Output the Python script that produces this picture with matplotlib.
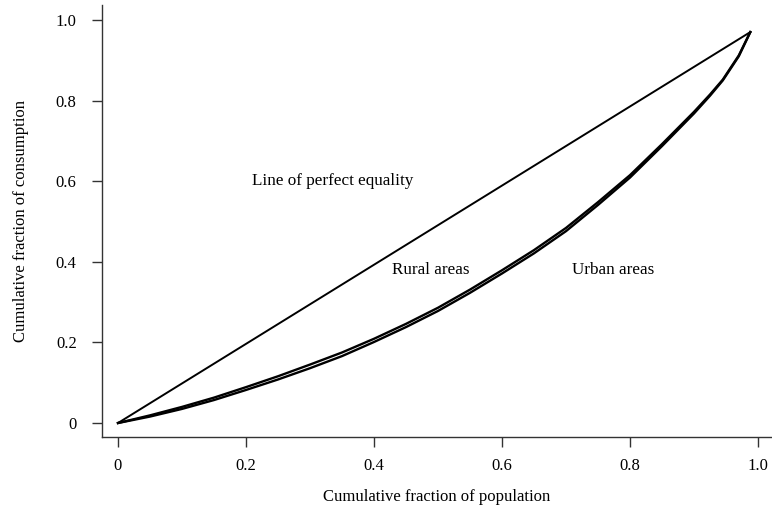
import matplotlib
matplotlib.use("Agg")
import matplotlib.pyplot as plt

plt.rcParams['font.family'] = ['Liberation Serif', 'DejaVu Serif']

# Lorenz curves: cumulative share of population vs. cumulative share of consumption
pop_share = [0, 0.05, 0.1, 0.15, 0.2, 0.25, 0.3, 0.35, 0.4, 0.45, 0.5,
             0.55, 0.6, 0.65, 0.7, 0.75, 0.8, 0.85, 0.9, 0.925, 0.945, 0.97, 0.988]
rural_share = [0, 0.019, 0.040, 0.063, 0.089, 0.116, 0.145, 0.175, 0.209, 0.246, 0.286,
               0.331, 0.379, 0.429, 0.484, 0.548, 0.615, 0.692, 0.772, 0.815, 0.852, 0.912, 0.970]
urban_share = [0, 0.016, 0.035, 0.057, 0.082, 0.108, 0.136, 0.166, 0.201, 0.238, 0.278,
               0.323, 0.371, 0.421, 0.476, 0.541, 0.609, 0.687, 0.768, 0.812, 0.850, 0.910, 0.970]

# equality line endpoints
eq_x = [0, 0.988]
eq_y = [0, 0.970]

ticks = [0, 0.2, 0.4, 0.6, 0.8, 1.0]
tick_labels = ['0', '0.2', '0.4', '0.6', '0.8', '1.0']

fig = plt.figure(figsize=(7.72, 5.14), dpi=100)
ax = fig.add_axes([0.1317, 0.1498, 0.8683, 0.8405])

ax.plot(eq_x, eq_y, color='black', lw=1.4)
ax.plot(pop_share, rural_share, color='black', lw=1.7)
ax.plot(pop_share, urban_share, color='black', lw=1.7)

ax.text(0.21, 0.60, 'Line of perfect equality', fontsize=12.3, va='center', ha='left')
ax.text(0.428, 0.38, 'Rural areas', fontsize=12.3, va='center', ha='left')
ax.text(0.709, 0.38, 'Urban areas', fontsize=12.3, va='center', ha='left')

ax.set_xlim(-0.0255, 1.0219)
ax.set_ylim(-0.0347, 1.0372)
ax.set_xticks(ticks)
ax.set_xticklabels(tick_labels)
ax.set_yticks(ticks)
ax.set_yticklabels(tick_labels)

for side in ['top', 'right']:
    ax.spines[side].set_visible(False)
for side in ['left', 'bottom']:
    ax.spines[side].set_color('#333333')
    ax.spines[side].set_linewidth(1.0)

ax.tick_params(axis='x', direction='out', length=7, width=1, color='#333333',
               labelsize=12, pad=8)
ax.tick_params(axis='y', direction='out', length=7, width=1, color='#333333',
               labelsize=12, pad=11)

ax.set_xlabel('Cumulative fraction of population', fontsize=12, labelpad=11)
ax.set_ylabel('Cumulative fraction of consumption', fontsize=12, labelpad=19)

fig.savefig('out.png', dpi=100)
